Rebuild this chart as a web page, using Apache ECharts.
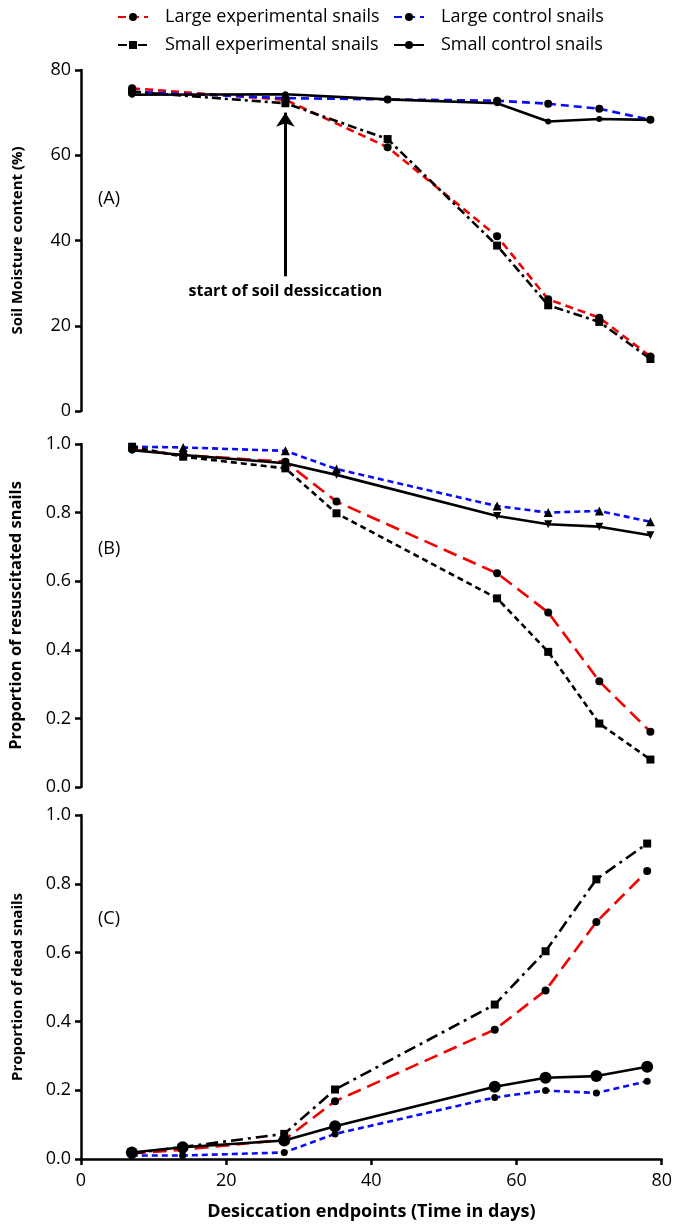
<!DOCTYPE html>
<html>
<head>
<meta charset="utf-8">
<script src="https://cdn.jsdelivr.net/npm/echarts@6/dist/echarts.min.js"></script>
<style>
html,body{margin:0;padding:0;background:#fff;}
#chart{width:675px;height:1228px;}
</style>
</head>
<body>
<div id="chart"></div>
<script>
// ---------- data ----------
const seriesNames = ['Large experimental snails', 'Large control snails', 'Small experimental snails', 'Small control snails'];

// Panel A: soil moisture content (%)
const daysA = [7, 28, 42, 57, 64, 71, 78];
const moistLargeExp   = [75.7, 73.0, 61.9, 41.0, 26.2, 21.9, 12.8];
const moistLargeCtrl  = [74.9, 73.4, 73.1, 72.8, 72.1, 70.9, 68.3];
const moistSmallExp   = [74.9, 72.2, 63.8, 38.8, 24.8, 20.9, 12.2];
const moistSmallCtrl  = [74.2, 74.3, 73.1, 72.2, 67.9, 68.5, 68.3];

// Panel B/C sampling days
const days = [7, 14, 28, 35, 57, 64, 71, 78];

// Panel B: proportion of resuscitated snails
const resusLargeExp  = [0.984, 0.968, 0.948, 0.832, 0.623, 0.509, 0.308, 0.161];
const resusLargeCtrl = [0.992, 0.990, 0.980, 0.927, 0.819, 0.800, 0.805, 0.773];
const resusSmallExp  = [0.992, 0.963, 0.929, 0.798, 0.550, 0.394, 0.185, 0.080];
const resusSmallCtrl = [0.982, 0.968, 0.944, 0.910, 0.790, 0.766, 0.759, 0.734];

// Panel C: proportion of dead snails
const deadLargeExp  = [0.016, 0.027, 0.056, 0.168, 0.376, 0.490, 0.689, 0.837];
const deadLargeCtrl = [0.010, 0.010, 0.019, 0.073, 0.179, 0.199, 0.192, 0.226];
const deadSmallExp  = [0.016, 0.035, 0.073, 0.202, 0.449, 0.604, 0.813, 0.917];
const deadSmallCtrl = [0.019, 0.034, 0.054, 0.095, 0.210, 0.236, 0.241, 0.268];

// annotation (panel A)
const arrowDay = 28;
const arrowFrom = 31.6;
const arrowTo = 70.0;
const arrowText = 'start of soil dessiccation';

const panelLabels = ['(A)', '(B)', '(C)'];
const yTitles = ['Soil Moisture content (%)', 'Proportion of resuscitated snails', 'Proportion of dead snails'];
const xTitle = 'Desiccation endpoints (Time in days)';

// ---------- chart ----------
const FONT = 'Open Sans';
const RED = '#f00000', BLUE = '#0a0aff', BLACK = '#000000';

function pts(xs, ys) { return xs.map((x, i) => [x, ys[i]]); }

function mk(name, idx, xs, ys, color, dash, symbol, size, extra) {
  return Object.assign({
    name: name,
    type: 'line',
    xAxisIndex: idx,
    yAxisIndex: idx,
    data: pts(xs, ys),
    symbol: symbol,
    symbolSize: size,
    showAllSymbol: true,
    animation: false,
    lineStyle: { color: color, width: 2.6, type: dash },
    itemStyle: { color: BLACK },
    emphasis: { disabled: true }
  }, extra || {});
}

const grids = [
  { left: 81, top: 70, width: 584, height: 341 },
  { left: 81, top: 444, width: 584, height: 343 },
  { left: 81, top: 815, width: 584, height: 344 }
];

const axisLineStyle = { show: true, lineStyle: { color: BLACK, width: 2.5 } };
const tickStyle = { show: true, length: 6, lineStyle: { color: BLACK, width: 2.5 } };
const labelStyle = { color: BLACK, fontSize: 18, fontFamily: FONT, margin: 10 };
const yTitleSizes = [15, 16.5, 15];

const xAxes = grids.map((g, i) => ({
  type: 'value', gridIndex: i, min: 0, max: 80, interval: 20,
  axisLine: i === 2 ? axisLineStyle : { show: false },
  axisTick: i === 2 ? tickStyle : { show: false },
  axisLabel: i === 2 ? Object.assign({}, labelStyle, { margin: 13 }) : { show: false },
  splitLine: { show: false },
  name: i === 2 ? xTitle : '',
  nameLocation: 'middle', nameGap: 44,
  nameTextStyle: { color: BLACK, fontSize: 18, fontWeight: 'bold', fontFamily: FONT }
}));

const yAxes = grids.map((g, i) => ({
  type: 'value', gridIndex: i,
  min: 0, max: i === 0 ? 80 : 1, interval: i === 0 ? 20 : 0.2,
  axisLine: axisLineStyle,
  axisTick: tickStyle,
  axisLabel: Object.assign({}, labelStyle, { formatter: i === 0 ? (v => String(v)) : (v => v.toFixed(1)) }),
  splitLine: { show: false },
  name: yTitles[i], nameLocation: 'middle', nameRotate: 90, nameGap: 56,
  nameTextStyle: { color: BLACK, fontSize: yTitleSizes[i], fontWeight: 'bold', fontFamily: FONT }
}));

const series = [
  // Panel A
  mk(seriesNames[0], 0, daysA, moistLargeExp, RED, [8, 5], 'circle', 8),
  mk(seriesNames[1], 0, daysA, moistLargeCtrl, BLUE, [8, 5], 'circle', 8),
  mk(seriesNames[2], 0, daysA, moistSmallExp, BLACK, [9, 4, 3, 4], 'rect', 8),
  mk(seriesNames[3], 0, daysA, moistSmallCtrl, BLACK, 'solid', 'circle', 6, {
    markLine: {
      silent: true, animation: false,
      symbol: ['none', 'arrow'], symbolSize: 14,
      lineStyle: { color: BLACK, width: 3, type: 'solid' },
      label: { show: true, position: 'start', formatter: arrowText, color: BLACK,
               fontSize: 16, fontWeight: 'bold', fontFamily: FONT, distance: 7 },
      data: [[{ coord: [arrowDay, arrowFrom] }, { coord: [arrowDay, arrowTo] }]]
    }
  }),
  // Panel B
  mk(seriesNames[0], 1, days, resusLargeExp, RED, [14, 7], 'circle', 8),
  mk(seriesNames[1], 1, days, resusLargeCtrl, BLUE, [6, 4], 'triangle', 9),
  mk(seriesNames[2], 1, days, resusSmallExp, BLACK, [6, 4], 'rect', 8),
  mk(seriesNames[3], 1, days, resusSmallCtrl, BLACK, 'solid', 'triangle', 8, { symbolRotate: 180 }),
  // Panel C
  mk(seriesNames[0], 2, days, deadLargeExp, RED, [14, 7], 'circle', 8),
  mk(seriesNames[1], 2, days, deadLargeCtrl, BLUE, [6, 4], 'circle', 7),
  mk(seriesNames[2], 2, days, deadSmallExp, BLACK, [12, 5, 3, 5], 'rect', 8),
  mk(seriesNames[3], 2, days, deadSmallCtrl, BLACK, 'solid', 'circle', 12)
];

const legendCommon = {
  orient: 'vertical', top: 3, itemGap: 10, itemWidth: 30, itemHeight: 10,
  selectedMode: false,
  textStyle: { color: BLACK, fontSize: 18, fontFamily: FONT, padding: [0, 0, 0, 12] }
};

const panelTitle = (t, top) => ({ text: t, left: 93, top: top,
  textStyle: { fontSize: 18, fontWeight: 'normal', color: BLACK, fontFamily: FONT } });

const option = {
  backgroundColor: '#ffffff',
  animation: false,
  textStyle: { fontFamily: FONT },
  grid: grids,
  xAxis: xAxes,
  yAxis: yAxes,
  legend: [
    Object.assign({}, legendCommon, { left: 112, data: [seriesNames[0], seriesNames[2]] }),
    Object.assign({}, legendCommon, { left: 388, data: [seriesNames[1], seriesNames[3]] })
  ],
  title: [
    panelTitle(panelLabels[0], 185),
    panelTitle(panelLabels[1], 535),
    panelTitle(panelLabels[2], 905)
  ],
  series: series
};

const chart = echarts.init(document.getElementById('chart'), null, { renderer: 'canvas' });
chart.setOption(option);
</script>
</body>
</html>
